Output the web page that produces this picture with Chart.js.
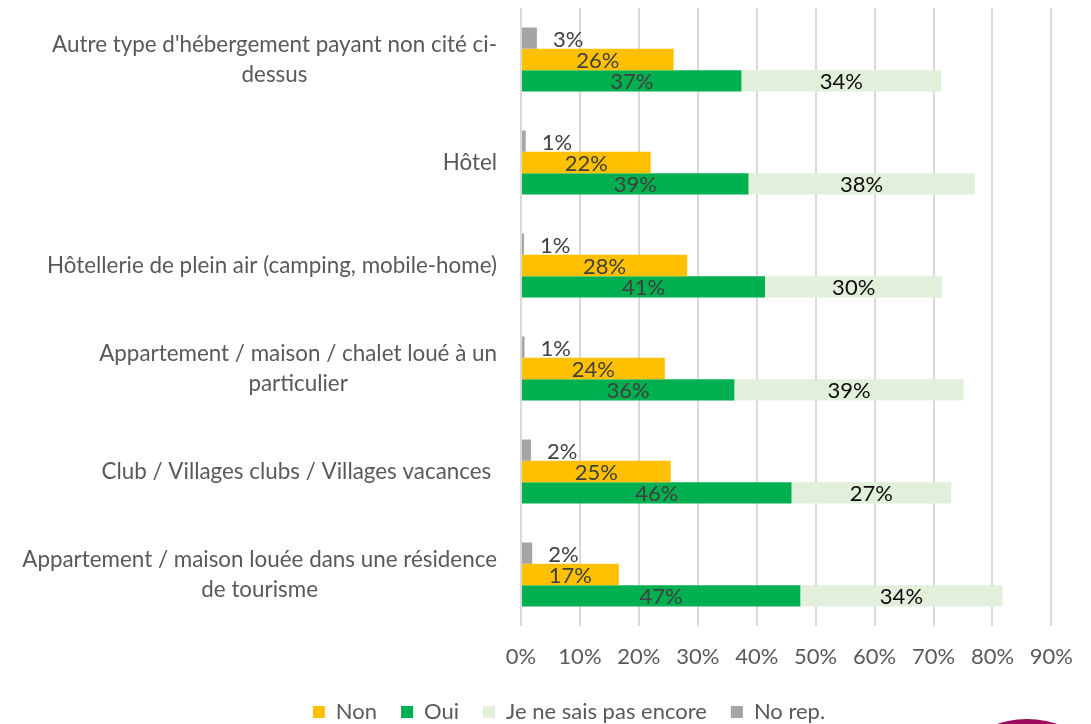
<!DOCTYPE html>
<html>
<head>
<meta charset="utf-8">
<script src="https://cdn.jsdelivr.net/npm/chart.js@4.4.1/dist/chart.umd.min.js"></script>
<style>
  html, body { margin: 0; padding: 0; background: #fff; overflow: hidden; }
  #wrap { position: relative; width: 1091px; height: 760px; }
  #logo {
    position: absolute; left: 929px; top: 719px;
    width: 196px; height: 196px; border-radius: 50%;
    background: #9e0b5c;
  }
</style>
</head>
<body>
<div id="wrap">
  <canvas id="chart"></canvas>
  <div id="logo"></div>
</div>
<script>
// Catégories (lignes de texte telles qu'affichées)
const categories = [
  ["Autre type d'hébergement payant non cité ci-", "dessus"],
  ["Hôtel"],
  ["Hôtellerie de plein air (camping, mobile-home)"],
  ["Appartement / maison / chalet loué à un", "particulier"],
  ["Club / Villages clubs / Villages vacances "],
  ["Appartement / maison louée dans une résidence", "de tourisme"]
];

// Valeurs en %
const noRepValues = [2.7, 0.8, 0.5, 0.6, 1.7, 1.9];
const nonValues = [25.9, 22.0, 28.2, 24.4, 25.4, 16.6];
const ouiValues = [37.4, 38.6, 41.4, 36.2, 45.9, 47.4];
const jnspValues = [33.9, 38.4, 30.1, 38.9, 27.1, 34.3];

const xTickMax = 90;
const xTickStep = 10;
const legendOrder = ["Non", "Oui", "Je ne sais pas encore", "No rep."];

const FONT = "Lato";

// Libellés des catégories : bloc aligné à droite, lignes centrées entre elles
const categoryLabels = {
  id: "categoryLabels",
  afterDraw(chart) {
    const ctx = chart.ctx;
    const yScale = chart.scales.y;
    const right = chart.chartArea.left - 24;
    const lineHeight = 30;
    ctx.save();
    ctx.font = "22.4px " + FONT;
    ctx.fillStyle = "#595959";
    ctx.textAlign = "center";
    ctx.textBaseline = "middle";
    categories.forEach((lines, i) => {
      const yc = yScale.getPixelForValue(i);
      const widest = Math.max(...lines.map(l => ctx.measureText(l).width));
      const xc = right - widest / 2;
      const y0 = yc - (lines.length - 1) * lineHeight / 2;
      lines.forEach((l, j) => ctx.fillText(l, xc, y0 + j * lineHeight));
    });
    ctx.restore();
  }
};

// Étiquettes de données
const valueLabels = {
  id: "valueLabels",
  afterDatasetsDraw(chart) {
    const ctx = chart.ctx;
    ctx.save();
    ctx.font = "22px " + FONT;
    ctx.textBaseline = "middle";
    chart.data.datasets.forEach((ds, di) => {
      const meta = chart.getDatasetMeta(di);
      meta.data.forEach((bar, i) => {
        const txt = Math.round(ds.data[i]) + "%";
        if (ds.label === "No rep.") {
          ctx.textAlign = "left";
          ctx.fillStyle = "#404040";
          ctx.fillText(txt, bar.x + 16, bar.y + 2);
        } else {
          ctx.textAlign = "center";
          ctx.fillStyle = ds.label === "Je ne sais pas encore" ? "#0d0d0d" : "#404040";
          ctx.fillText(txt, (bar.x + bar.base) / 2, bar.y + 1);
        }
      });
    });
    ctx.restore();
  }
};

const ctx = document.getElementById("chart").getContext("2d");
new Chart(ctx, {
  type: "bar",
  data: {
    labels: categories,
    datasets: [
      { label: "No rep.", data: noRepValues, backgroundColor: "#a5a5a5", stack: "c" },
      { label: "Non", data: nonValues, backgroundColor: "#ffc000", stack: "a" },
      { label: "Oui", data: ouiValues, backgroundColor: "#00b050", stack: "b" },
      { label: "Je ne sais pas encore", data: jnspValues, backgroundColor: "#e2efda", stack: "b" }
    ]
  },
  options: {
    indexAxis: "y",
    responsive: true,
    maintainAspectRatio: false,
    animation: false,
    datasets: {
      bar: { categoryPercentage: 0.623, barPercentage: 1, borderWidth: 0 }
    },
    layout: { padding: { top: 8, left: 82, right: 35, bottom: 27 } },
    scales: {
      x: {
        stacked: true,
        min: 0,
        max: xTickMax,
        ticks: {
          stepSize: xTickStep,
          padding: 18,
          color: "#595959",
          font: { family: FONT, size: 22 },
          callback: v => v + "%"
        },
        grid: { color: "#d9d9d9", lineWidth: 2, drawTicks: false },
        border: { display: false },
        afterFit(scale) { scale.height = 51; }
      },
      y: {
        stacked: true,
        ticks: { display: false },
        grid: { display: false },
        border: { display: false },
        afterFit(scale) { scale.width = 439; }
      }
    },
    plugins: {
      legend: {
        position: "bottom",
        labels: {
          boxWidth: 12,
          boxHeight: 12,
          padding: 24,
          color: "#595959",
          font: { family: FONT, size: 22 },
          sort: (a, b) => legendOrder.indexOf(a.text) - legendOrder.indexOf(b.text)
        }
      },
      tooltip: { enabled: false }
    }
  },
  plugins: [categoryLabels, valueLabels]
});
</script>
</body>
</html>
